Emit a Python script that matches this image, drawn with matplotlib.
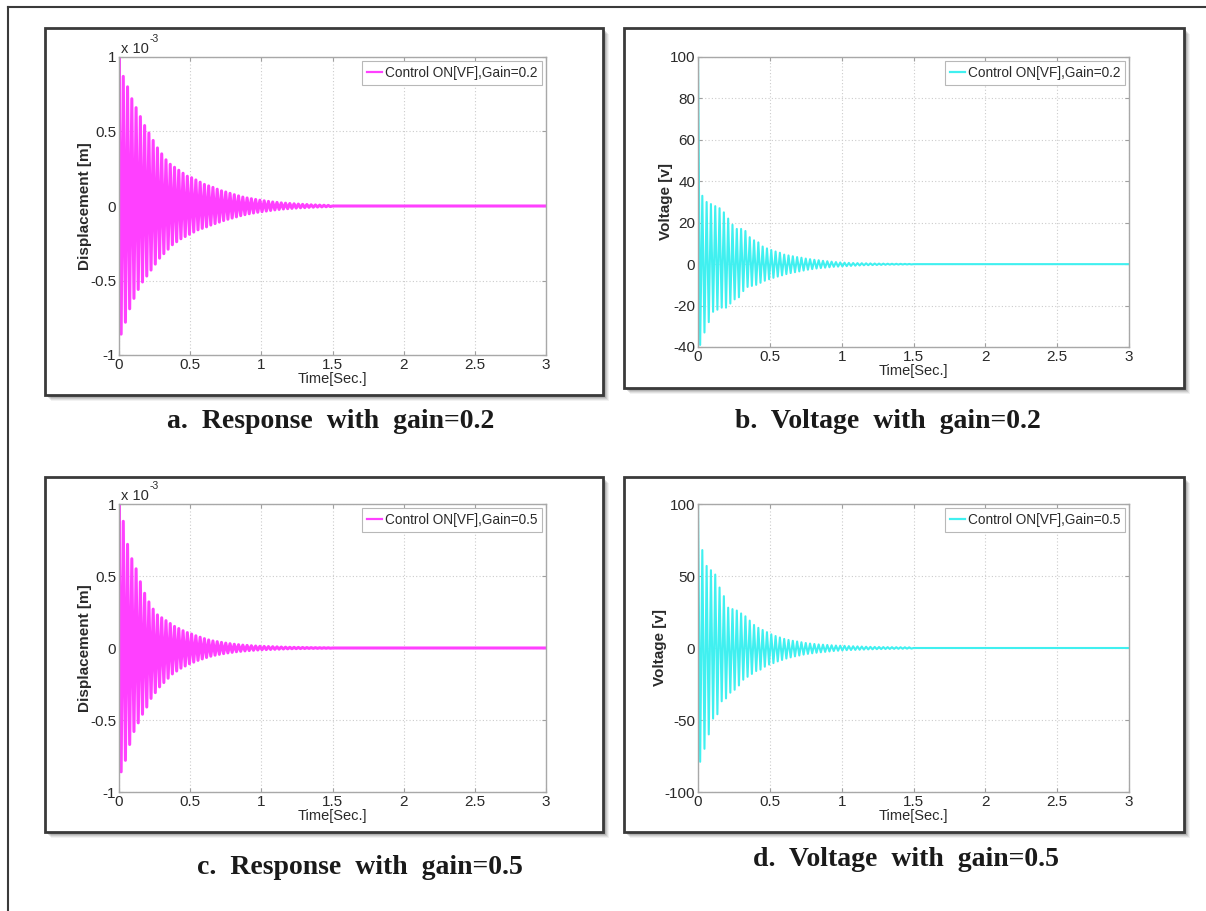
import numpy as np
import matplotlib
matplotlib.use("Agg")
import matplotlib.pyplot as plt
from matplotlib.patches import Rectangle
from matplotlib.lines import Line2D

# ---------------------------------------------------------------------------
# Data: peak values of each oscillation cycle (crest, then following trough)
# ---------------------------------------------------------------------------
CYCLE_PERIOD = 0.03          # s, one crest + one trough per cycle
T_END = 3.0

# Displacement, gain = 0.2 (units of 1e-3 m)
disp_g02_upper = [1.00, 0.87, 0.80, 0.72, 0.66, 0.60, 0.54, 0.49, 0.44, 0.39,
                  0.35, 0.31, 0.28, 0.26, 0.24, 0.22, 0.20, 0.19, 0.175, 0.16,
                  0.145, 0.135, 0.125, 0.113, 0.102, 0.094, 0.085, 0.076, 0.068, 0.060,
                  0.054, 0.049, 0.044, 0.039, 0.035, 0.031, 0.027, 0.024, 0.021, 0.019,
                  0.017, 0.015, 0.013, 0.011, 0.010, 0.008, 0.007, 0.006, 0.005, 0.004]
disp_g02_lower = [-0.86, -0.78, -0.69, -0.62, -0.56, -0.51, -0.47, -0.43, -0.39, -0.35,
                  -0.32, -0.29, -0.26, -0.24, -0.22, -0.205, -0.19, -0.175, -0.16, -0.15,
                  -0.14, -0.128, -0.118, -0.108, -0.098, -0.089, -0.081, -0.073, -0.065, -0.058,
                  -0.052, -0.047, -0.042, -0.038, -0.034, -0.030, -0.026, -0.023, -0.020, -0.018,
                  -0.016, -0.014, -0.012, -0.011, -0.009, -0.008, -0.007, -0.006, -0.005, -0.004]

# Voltage, gain = 0.2 (V)
volt_g02_upper = [100, 33, 30, 29, 28, 27, 25, 22, 19, 17,
                  17, 16, 13, 11.5, 10.5, 8.5, 7.6, 6.8, 6.1, 5.5,
                  4.6, 4.2, 3.8, 3.4, 3.1, 2.7, 2.4, 2.1, 1.9, 1.6,
                  1.4, 1.2, 1.0, 0.8, 0.7, 0.6, 0.55, 0.5, 0.45, 0.4,
                  0.35, 0.3, 0.27, 0.24, 0.21, 0.18, 0.16, 0.14, 0.12, 0.1]
volt_g02_lower = [-39, -33, -28, -23, -22, -21, -21, -19, -17, -16,
                  -13, -11, -10.5, -10, -9, -8, -7.3, -6.6, -6, -5.4,
                  -4.8, -4.3, -3.9, -3.5, -3.1, -2.7, -2.4, -2.1, -1.9, -1.7,
                  -1.5, -1.3, -1.2, -1.1, -0.95, -0.85, -0.75, -0.65, -0.55, -0.5,
                  -0.45, -0.4, -0.35, -0.3, -0.25, -0.22, -0.2, -0.17, -0.15, -0.12]

# Displacement, gain = 0.5 (units of 1e-3 m)
disp_g05_upper = [1.00, 0.88, 0.72, 0.62, 0.55, 0.46, 0.38, 0.32, 0.27, 0.23,
                  0.21, 0.19, 0.17, 0.15, 0.135, 0.12, 0.107, 0.097, 0.085, 0.075,
                  0.065, 0.056, 0.049, 0.044, 0.039, 0.034, 0.030, 0.026, 0.023, 0.020,
                  0.018, 0.016, 0.014, 0.012, 0.011, 0.010, 0.009, 0.008, 0.007, 0.006,
                  0.005, 0.0045, 0.004, 0.0035, 0.003, 0.0027, 0.0024, 0.002, 0.0018, 0.0015]
disp_g05_lower = [-0.86, -0.78, -0.67, -0.58, -0.52, -0.46, -0.41, -0.35, -0.31, -0.27,
                  -0.24, -0.21, -0.18, -0.16, -0.14, -0.125, -0.11, -0.098, -0.086, -0.076,
                  -0.066, -0.057, -0.050, -0.044, -0.039, -0.034, -0.030, -0.026, -0.023, -0.020,
                  -0.018, -0.016, -0.014, -0.012, -0.011, -0.010, -0.009, -0.008, -0.007, -0.006,
                  -0.005, -0.0045, -0.004, -0.0035, -0.003, -0.0027, -0.0024, -0.002, -0.0018, -0.0015]

# Voltage, gain = 0.5 (V)
volt_g05_upper = [100, 68, 57, 54, 51, 42, 36, 28, 27, 26,
                  24, 22, 19, 16, 14, 12.5, 11, 9.5, 8.3, 7.3,
                  6.3, 5.6, 5.0, 4.5, 4.0, 3.5, 3.1, 2.8, 2.5, 2.3,
                  2.1, 1.9, 1.7, 1.6, 1.5, 1.3, 1.2, 1.1, 1.0, 0.9,
                  0.8, 0.75, 0.7, 0.65, 0.6, 0.58, 0.55, 0.52, 0.5, 0.45]
volt_g05_lower = [-79, -70, -60, -49, -46, -37, -35, -31, -29, -26,
                  -22, -20, -18, -16, -15, -13, -11.5, -10.5, -9.3, -8.3,
                  -7.3, -6.5, -5.8, -5.2, -4.6, -4.1, -3.7, -3.3, -3.0, -2.7,
                  -2.4, -2.1, -1.9, -1.7, -1.5, -1.4, -1.3, -1.2, -1.1, -1.0,
                  -0.9, -0.8, -0.75, -0.7, -0.65, -0.6, -0.55, -0.5, -0.45, -0.4]

x_ticks = [0, 0.5, 1, 1.5, 2, 2.5, 3]
x_tick_labels = ["0", "0.5", "1", "1.5", "2", "2.5", "3"]
disp_ticks = [-1, -0.5, 0, 0.5, 1]
disp_tick_labels = ["-1", "-0.5", "0", "0.5", "1"]
volt_g02_ticks = [-40, -20, 0, 20, 40, 60, 80, 100]
volt_g05_ticks = [-100, -50, 0, 50, 100]

legend_labels = ["Control ON[VF],Gain=0.2", "Control ON[VF],Gain=0.5"]
captions = ["a.  Response  with  gain=0.2", "b.  Voltage  with  gain=0.2",
            "c.  Response  with  gain=0.5", "d.  Voltage  with  gain=0.5"]

MAGENTA = "#ff40ff"
CYAN = "#40f0f0"

# ---------------------------------------------------------------------------
# Layout helpers (pixel positions on a 1206 x 911 canvas)
# ---------------------------------------------------------------------------
W, H = 1206, 911
fig = plt.figure(figsize=(W / 100, H / 100), dpi=100)
fig.patch.set_facecolor("white")

SANS = ["Liberation Sans", "DejaVu Sans"]
SERIF = ["Liberation Serif", "DejaVu Serif"]
TEXT_COLOR = "#2a2a2a"


def fx(x):
    return x / W


def fy(y):
    return 1 - y / H


def frame_box(x0, y0, x1, y1):
    # drop shadow, then the dark frame itself
    for off, a in [(6, 0.05), (5, 0.07), (4, 0.09), (3, 0.12), (2, 0.16)]:
        fig.patches.append(Rectangle((fx(x0 + off), fy(y1 + off)), (x1 - x0) / W,
                                     (y1 - y0) / H, transform=fig.transFigure,
                                     facecolor="black", edgecolor="none", alpha=a,
                                     zorder=0))
    fig.patches.append(Rectangle((fx(x0), fy(y1)), (x1 - x0) / W, (y1 - y0) / H,
                                 transform=fig.transFigure, facecolor="white",
                                 edgecolor="#3a3a3a", linewidth=2.0, zorder=1))


def zigzag(upper, lower):
    # crest at the start of each cycle, trough half a period later, then rest at zero
    t, v = [0.0], [0.0]
    for k, (u, l) in enumerate(zip(upper, lower)):
        t += [k * CYCLE_PERIOD, k * CYCLE_PERIOD + CYCLE_PERIOD / 2]
        v += [u, l]
    t += [len(upper) * CYCLE_PERIOD, T_END]
    v += [0.0, 0.0]
    return np.array(t), np.array(v)


def make_axes(box, upper, lower, color, lw, yticks, ylabels, ylim, ylabel, legend,
              ylabel_x, sci=False):
    l, t, r, b = box
    ax = fig.add_axes([fx(l), fy(b), (r - l) / W, (b - t) / H], zorder=3)
    tt, vv = zigzag(upper, lower)
    ax.plot(tt, vv, color=color, lw=lw, label=legend)
    ax.set_xlim(0, T_END)
    ax.set_ylim(*ylim)
    ax.set_xticks(x_ticks)
    ax.set_xticklabels(x_tick_labels)
    ax.set_yticks(yticks)
    ax.set_yticklabels(ylabels)
    ax.grid(True, color="#cccccc", linestyle=(0, (1, 2)), linewidth=0.8)
    for s in ax.spines.values():
        s.set_color("#a8a8a8")
        s.set_linewidth(1.0)
    ax.tick_params(direction="in", length=3, width=0.8, color="#a0a0a0",
                   top=True, right=True, pad=2, labelcolor=TEXT_COLOR)
    for lab in ax.get_xticklabels() + ax.get_yticklabels():
        lab.set_family(SANS)
        lab.set_fontsize(11)
    ax.set_xlabel("Time[Sec.]", family=SANS, fontsize=10.5, color=TEXT_COLOR,
                  labelpad=0)
    ax.set_ylabel(ylabel, family=SANS, fontsize=11, fontweight="bold",
                  color=TEXT_COLOR)
    ax.yaxis.set_label_coords(ylabel_x, 0.5)
    leg = ax.legend(loc="upper right", fancybox=False, framealpha=1,
                    edgecolor="#b8b8b8", borderaxespad=0.3, handlelength=1.1,
                    handletextpad=0.2, borderpad=0.35, prop={"family": SANS, "size": 9.8})
    leg.get_frame().set_linewidth(0.8)
    for line in leg.get_lines():
        line.set_linewidth(1.6)
    for txt in leg.get_texts():
        txt.set_color(TEXT_COLOR)
    if sci:
        ax.text(0.004, 1.004, "x 10", transform=ax.transAxes, family=SANS,
                fontsize=10.5, color=TEXT_COLOR, ha="left", va="bottom")
        ax.text(0.072, 1.045, "-3", transform=ax.transAxes, family=SANS,
                fontsize=7.5, color=TEXT_COLOR, ha="left", va="bottom")
    return ax


# outer page border (top and left edges)
fig.lines.append(Line2D([fx(8), fx(W)], [fy(7), fy(7)], transform=fig.transFigure,
                        color="#3a3a3a", lw=1.5))
fig.lines.append(Line2D([fx(8), fx(8)], [fy(7), fy(H)], transform=fig.transFigure,
                        color="#3a3a3a", lw=1.5))

frame_box(45, 28, 603, 395)
frame_box(624, 28, 1184, 388)
frame_box(45, 477, 603, 832)
frame_box(624, 477, 1184, 832)

make_axes((119, 57, 546, 355), disp_g02_upper, disp_g02_lower, MAGENTA, 2.2,
          disp_ticks, disp_tick_labels, (-1, 1), "Displacement [m]",
          legend_labels[0], -0.063, sci=True)
make_axes((698, 57, 1129, 347), volt_g02_upper, volt_g02_lower, CYAN, 1.5,
          volt_g02_ticks, [str(v) for v in volt_g02_ticks], (-40, 100),
          "Voltage [v]", legend_labels[0], -0.058)
make_axes((119, 504, 546, 792), disp_g05_upper, disp_g05_lower, MAGENTA, 2.2,
          disp_ticks, disp_tick_labels, (-1, 1), "Displacement [m]",
          legend_labels[1], -0.063, sci=True)
make_axes((698, 504, 1129, 792), volt_g05_upper, volt_g05_lower, CYAN, 1.5,
          volt_g05_ticks, [str(v) for v in volt_g05_ticks], (-100, 100),
          "Voltage [v]", legend_labels[1], -0.072)

caption_pos = [(331, 421), (888, 421), (360, 868), (906, 860)]
for (cx, cy), cap in zip(caption_pos, captions):
    fig.text(fx(cx), fy(cy), cap, family=SERIF, fontsize=20, fontweight="bold",
             color="#1a1a1a", ha="center", va="center")

fig.savefig("out.png", dpi=100, facecolor="white")
